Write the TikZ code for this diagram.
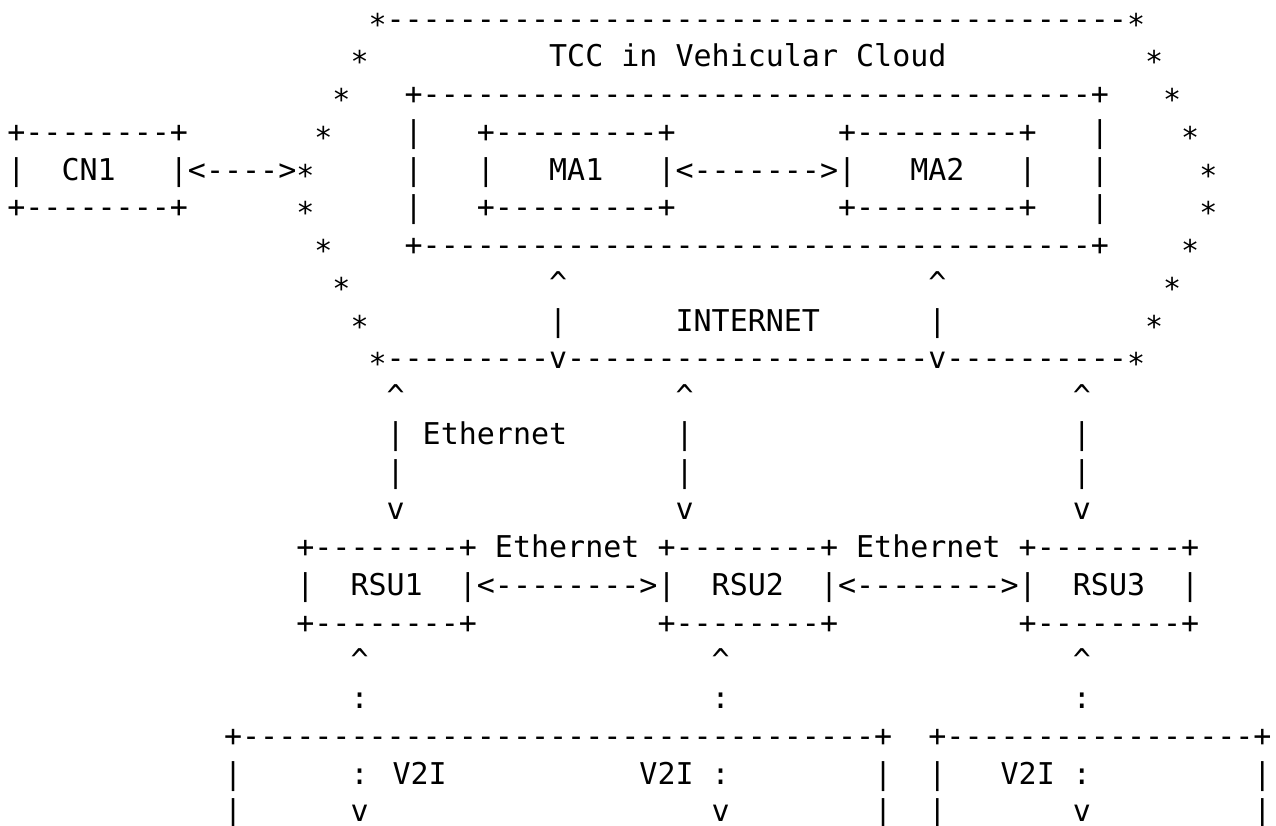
\documentclass[tikz,border=0pt]{standalone}
\usepackage{fontspec}
\usepackage{tikz}
\newfontfamily\asciifont[Ligatures=TeXOff]{DejaVu Sans Mono}

\tikzset{
  asc/.style={inner sep=0pt, anchor=base west, xshift=-4.515pt, yshift=-5.47pt,
    font=\asciifont\fontsize{15}{18}\selectfont},
  cloudpt/.style={asc, yshift=-2.9pt}
}

\begin{document}
\begin{tikzpicture}[x=9.03pt, y=-18.875pt]
\useasboundingbox (-0.886,0.515) rectangle (69.77,22.396);

% vehicular cloud
\node[cloudpt] (tl) at (20,1) {*};
\node[asc] (cloudtop) at (21,1) {-----------------------------------------};
\node[cloudpt] (tr) at (62,1) {*};
\node[cloudpt] (l2) at (19,2) {*};
\node[asc] (tcclabel) at (30,2) {TCC in Vehicular Cloud};
\node[cloudpt] (r2) at (63,2) {*};
\node[cloudpt] (l3) at (18,3) {*};
\node[asc] (tcctop) at (22,3) {+-------------------------------------+};
\node[cloudpt] (r3) at (64,3) {*};

\node[asc] (cn1top) at (0,4) {+--------+};
\node[cloudpt] (l4) at (17,4) {*};
\node[asc] (tccl4) at (22,4) {|};
\node[asc] (ma1top) at (26,4) {+---------+};
\node[asc] (ma2top) at (46,4) {+---------+};
\node[asc] (tccr4) at (60,4) {|};
\node[cloudpt] (r4) at (65,4) {*};

\node[asc] (cn1l) at (0,5) {|};
\node[asc] (cn1) at (3,5) {CN1};
\node[asc] (cn1link) at (9,5) {|<---->}; % CN1 to cloud
\node[cloudpt] (l5) at (16,5) {*};
\node[asc] (tccl5) at (22,5) {|};
\node[asc] (ma1l) at (26,5) {|};
\node[asc] (ma1) at (30,5) {MA1};
\node[asc] (malink) at (36,5) {|<------->|}; % MA1 to MA2
\node[asc] (ma2) at (50,5) {MA2};
\node[asc] (ma2r) at (56,5) {|};
\node[asc] (tccr5) at (60,5) {|};
\node[cloudpt] (r5) at (66,5) {*};

\node[asc] (cn1bot) at (0,6) {+--------+};
\node[cloudpt] (l6) at (16,6) {*};
\node[asc] (tccl6) at (22,6) {|};
\node[asc] (ma1bot) at (26,6) {+---------+};
\node[asc] (ma2bot) at (46,6) {+---------+};
\node[asc] (tccr6) at (60,6) {|};
\node[cloudpt] (r6) at (66,6) {*};

\node[cloudpt] (l7) at (17,7) {*};
\node[asc] (tccbot) at (22,7) {+-------------------------------------+};
\node[cloudpt] (r7) at (65,7) {*};

\node[cloudpt] (l8) at (18,8) {*};
\node[asc] (ma1up) at (30,8) {\textasciicircum};
\node[asc] (ma2up) at (51,8) {\textasciicircum};
\node[cloudpt] (r8) at (64,8) {*};

\node[cloudpt] (l9) at (19,9) {*};
\node[asc] (ma1bar) at (30,9) {|};
\node[asc] (internet) at (37,9) {INTERNET};
\node[asc] (ma2bar) at (51,9) {|};
\node[cloudpt] (r9) at (63,9) {*};

\node[cloudpt] (bl) at (20,10) {*};
\node[asc] (cloudbot) at (21,10) {---------v--------------------v----------};
\node[cloudpt] (br) at (62,10) {*};

% links cloud to RSUs
\foreach \c in {21,37,59}{
  \node[asc] (up\c) at (\c,11) {\textasciicircum};
  \node[asc] (bara\c) at (\c,12) {|};
  \node[asc] (barb\c) at (\c,13) {|};
  \node[asc] (down\c) at (\c,14) {v};
}
\node[asc] (ethup) at (23,12) {Ethernet};

% RSUs
\node[asc] (rsu1top) at (16,15) {+--------+};
\node[asc] (eth12) at (27,15) {Ethernet};
\node[asc] (rsu2top) at (36,15) {+--------+};
\node[asc] (eth23) at (47,15) {Ethernet};
\node[asc] (rsu3top) at (56,15) {+--------+};

\node[asc] (rsu1l) at (16,16) {|};
\node[asc] (rsu1) at (19,16) {RSU1};
\node[asc] (link12) at (25,16) {|<-------->|};
\node[asc] (rsu2) at (39,16) {RSU2};
\node[asc] (link23) at (45,16) {|<-------->|};
\node[asc] (rsu3) at (59,16) {RSU3};
\node[asc] (rsu3r) at (65,16) {|};

\node[asc] (rsu1bot) at (16,17) {+--------+};
\node[asc] (rsu2bot) at (36,17) {+--------+};
\node[asc] (rsu3bot) at (56,17) {+--------+};

\foreach \c in {19,39,59}{
  \node[asc] (v2iup\c) at (\c,18) {\textasciicircum};
  \node[asc] (v2idot\c) at (\c,19) {:};
}

% vehicle areas
\node[asc] (areaatop) at (12,20) {+-----------------------------------+};
\node[asc] (areabtop) at (51,20) {+-----------------+};

\node[asc] (areaal1) at (12,21) {|};
\node[asc] (v2ia) at (19,21) {: V2I};
\node[asc] (v2ib) at (35,21) {V2I :};
\node[asc] (areaar1) at (48,21) {|};
\node[asc] (areabl1) at (51,21) {|};
\node[asc] (v2ic) at (55,21) {V2I :};
\node[asc] (areabr1) at (69,21) {|};

\node[asc] (areaal2) at (12,22) {|};
\node[asc] (downa) at (19,22) {v};
\node[asc] (downb) at (39,22) {v};
\node[asc] (areaar2) at (48,22) {|};
\node[asc] (areabl2) at (51,22) {|};
\node[asc] (downc) at (59,22) {v};
\node[asc] (areabr2) at (69,22) {|};
\end{tikzpicture}
\end{document}
